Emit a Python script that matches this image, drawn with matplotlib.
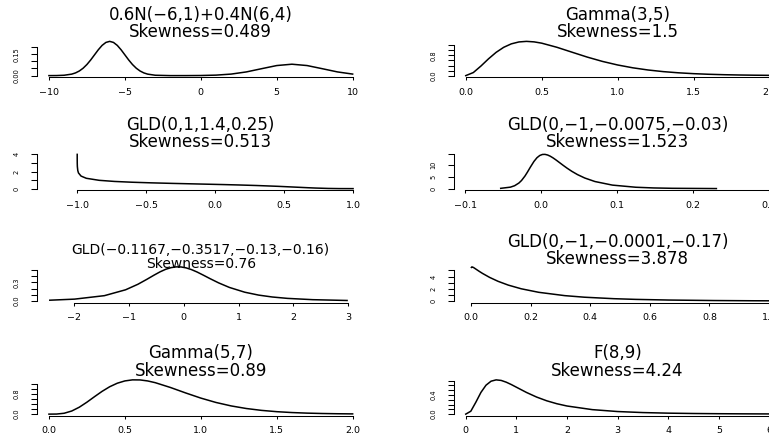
import matplotlib
matplotlib.use("Agg")
import matplotlib.pyplot as plt

# --- data (density curves, 4x2 panels) ---
mix_x = [-10, -9.5, -9, -8.5, -8.25, -8, -7.75, -7.5, -7.25, -7, -6.75, -6.5, -6.25, -6,
         -5.75, -5.5, -5.25, -5, -4.75, -4.5, -4.25, -4, -3.75, -3.5, -3, -2, -1, 0,
         1, 2, 3, 4, 5, 6, 7, 8, 9, 10]
mix_y = [0.0001, 0.0005, 0.0027, 0.0105, 0.0190, 0.0324, 0.0518, 0.0777, 0.1096, 0.1452,
         0.1807, 0.2113, 0.2320, 0.2394, 0.2320, 0.2113, 0.1807, 0.1452, 0.1096, 0.0777,
         0.0518, 0.0324, 0.0190, 0.0105, 0.0027, 0.0001, 0.0002, 0.0009, 0.0035, 0.0108,
         0.0259, 0.0484, 0.0704, 0.0798, 0.0704, 0.0484, 0.0259, 0.0108]

gam35_x = [0, 0.05, 0.1, 0.15, 0.2, 0.25, 0.3, 0.35, 0.4, 0.45, 0.5, 0.6, 0.7, 0.8, 0.9,
           1.0, 1.1, 1.2, 1.3, 1.4, 1.5, 1.6, 1.7, 1.8, 1.9, 2.0]
gam35_y = [0, 0.1217, 0.3791, 0.6643, 0.9197, 1.1191, 1.2551, 1.3305, 1.3534, 1.3336,
           1.2826, 1.1203, 0.9254, 0.7326, 0.5620, 0.4211, 0.3091, 0.2231, 0.1587, 0.1117,
           0.0778, 0.0537, 0.0367, 0.0250, 0.0169, 0.0114]

gld1_x = [-1.0, -0.999997, -0.99998, -0.99969, -0.99896, -0.9959, -0.99078, -0.9722,
          -0.9342, -0.8406, -0.7294, -0.6029, -0.4620, -0.3062, -0.1333, 0.0630, 0.1743,
          0.3006, 0.4578, 0.596, 0.670, 0.727, 0.8208, 0.8999, 1.0]
gld1_y = [4.0, 3.79, 3.507, 2.954, 2.579, 2.111, 1.8295, 1.466, 1.208, 0.970, 0.839, 0.748,
          0.675, 0.610, 0.546, 0.4725, 0.4257, 0.3639, 0.2677, 0.1642, 0.1075, 0.0681,
          0.0219, 0.0040, 0.0]

gld2_x = [-0.0531, -0.04039, -0.03484, -0.02917, -0.02573, -0.02118, -0.01797, -0.01425,
          -0.00944, -0.00543, -0.00178, 0.00169, 0.00510, 0.00855, 0.01209, 0.01580,
          0.01975, 0.02403, 0.02876, 0.03410, 0.04031, 0.04779, 0.05735, 0.07073, 0.09365,
          0.12438, 0.14809, 0.17225, 0.2303]
gld2_y = [0.1261, 0.6286, 1.2397, 2.399, 3.4768, 5.404, 7.0607, 9.112, 11.603, 13.209,
          14.152, 14.589, 14.630, 14.357, 13.831, 13.100, 12.198, 11.156, 9.997, 8.740,
          7.401, 5.995, 4.534, 3.032, 1.5052, 0.5904, 0.2897, 0.1420, 0.0271]

gld3_x = [-2.443, -1.992, -1.447, -1.061, -0.837, -0.675, -0.544, -0.432, -0.330, -0.234,
          -0.142, -0.051, 0.041, 0.137, 0.240, 0.352, 0.481, 0.635, 0.831, 1.111, 1.364,
          1.613, 1.888, 2.350, 2.977]
gld3_y = [0.01477, 0.03205, 0.08775, 0.18181, 0.27007, 0.34872, 0.41569, 0.46971, 0.51011,
          0.53655, 0.54902, 0.54778, 0.53330, 0.50626, 0.46752, 0.41811, 0.35929, 0.29253,
          0.21965, 0.14302, 0.09665, 0.06629, 0.04423, 0.02330, 0.01048]

gld4_x = [0.00125, 0.00305, 0.00846, 0.01784, 0.02782, 0.03850, 0.06239, 0.09063, 0.12499,
          0.16851, 0.22709, 0.31468, 0.38055, 0.47909, 0.55327, 0.66409, 0.8151, 0.94450,
          1.18776]
gld4_y = [5.494, 5.585, 5.479, 5.173, 4.848, 4.521, 3.870, 3.233, 2.613, 2.013, 1.438,
          0.8948, 0.6391, 0.3977, 0.2840, 0.1767, 0.0972, 0.0605, 0.0269]

gam57_x = [0, 0.05, 0.1, 0.15, 0.2, 0.25, 0.3, 0.35, 0.4, 0.45, 0.5, 0.55, 0.6, 0.65, 0.7,
           0.8, 0.9, 1.0, 1.1, 1.2, 1.3, 1.4, 1.5, 1.6, 1.7, 1.8, 1.9, 2.0]
gam57_y = [0, 0.00308, 0.03478, 0.12406, 0.27630, 0.47536, 0.69462, 0.90683, 1.09016,
           1.23054, 1.32168, 1.36363, 1.36097, 1.32094, 1.25204, 1.06068, 0.84370, 0.63858,
           0.46428, 0.32654, 0.22335, 0.14918, 0.09762, 0.06276, 0.03972, 0.02479, 0.01528,
           0.00932]

f89_x = [0, 0.1, 0.2, 0.3, 0.4, 0.5, 0.6, 0.7, 0.8, 0.9, 1.0, 1.2, 1.4, 1.6, 1.8, 2.0,
         2.5, 3.0, 3.5, 4.0, 4.5, 5.0, 5.5, 6.0]
f89_y = [0, 0.06087, 0.24995, 0.45446, 0.60533, 0.68907, 0.71683, 0.70505, 0.66829,
         0.61898, 0.56373, 0.45343, 0.35720, 0.27893, 0.21757, 0.17017, 0.09411, 0.05424,
         0.03257, 0.02031, 0.01311, 0.00872, 0.00595, 0.00416]

titles = ["0.6N(\u22126,1)+0.4N(6,4)", "Gamma(3,5)",
          "GLD(0,1,1.4,0.25)", "GLD(0,\u22121,\u22120.0075,\u22120.03)",
          "GLD(\u22120.1167,\u22120.3517,\u22120.13,\u22120.16)", "GLD(0,\u22121,\u22120.0001,\u22120.17)",
          "Gamma(5,7)", "F(8,9)"]
skewness = ["0.489", "1.5", "0.513", "1.523", "0.76", "3.878", "0.89", "4.24"]

xticks = [[-10, -5, 0, 5, 10], [0, 0.5, 1.0, 1.5, 2.0],
          [-1.0, -0.5, 0.0, 0.5, 1.0], [-0.1, 0.0, 0.1, 0.2, 0.3],
          [-2, -1, 0, 1, 2, 3], [0.0, 0.2, 0.4, 0.6, 0.8, 1.0],
          [0, 0.5, 1.0, 1.5, 2.0], [0, 1, 2, 3, 4, 5, 6]]
xtick_fmt = ["{:.0f}", "{:.1f}", "{:.1f}", "{:.1f}", "{:.0f}", "{:.1f}", "{:.1f}", "{:.0f}"]
yticks = [[0, 0.05, 0.10, 0.15, 0.20], [0, 0.2, 0.4, 0.6, 0.8, 1.0, 1.2],
          [0, 1, 2, 3, 4], [0, 5, 10, 15],
          [0, 0.1, 0.2, 0.3, 0.4, 0.5], [0, 1, 2, 3, 4, 5],
          [0, 0.2, 0.4, 0.6, 0.8, 1.0, 1.2], [0, 0.1, 0.2, 0.3, 0.4, 0.5, 0.6, 0.7]]
ylabels = [["0.00", "", "", "0.15", ""], ["0.0", "", "", "", "0.8", "", ""],
           ["0", "", "2", "", "4"], ["0", "5", "10", ""],
           ["0.0", "", "", "0.3", "", ""], ["0", "", "2", "", "4", ""],
           ["0.0", "", "", "", "0.8", "", ""], ["0.0", "", "", "", "0.4", "", "", ""]]

curves = [(mix_x, mix_y), (gam35_x, gam35_y), (gld1_x, gld1_y), (gld2_x, gld2_y),
          (gld3_x, gld3_y), (gld4_x, gld4_y), (gam57_x, gam57_y), (f89_x, f89_y)]

# --- layout (pixels) ---
W, H = 769, 434
col_left = [36.8, 453.6]
plot_w, plot_h = 328, 37
row_bottom = [77, 190, 302.5, 415.5]
xlims = [(-10.8, 10.8), (-0.08, 2.08), (-1.293, 1.085), (-0.115, 0.316),
         (-2.68, 3.30), (-0.0584, 1.042), (-0.08, 2.08), (-0.24, 6.24)]
title_y = [(14.5, 31.7), (14.5, 31.7), (124.5, 141.7), (124.5, 141.7),
           (249.5, 264), (242, 258.5), (353, 370.5), (353, 370.5)]
title_size = [12, 12, 12, 12, 10, 12, 12, 12]

fig = plt.figure(figsize=(W / 100, H / 100), dpi=100)

for i, (xs, ys) in enumerate(curves):
    r, c = divmod(i, 2)
    left = col_left[c]
    bottom = row_bottom[r]
    ax = fig.add_axes([left / W, 1 - bottom / H, plot_w / W, plot_h / H])
    ax.plot(xs, ys, color="black", lw=1.1, solid_joinstyle="round")
    ymax = max(ys)
    ax.set_ylim(-0.04 * ymax, 1.04 * ymax)
    ax.set_xlim(*xlims[i])

    ax.set_xticks(xticks[i])
    ax.set_xticklabels([xtick_fmt[i].format(v).replace("-", "\u2212") for v in xticks[i]],
                       fontsize=6.8)
    ax.set_yticks(yticks[i])
    ax.set_yticklabels(ylabels[i], rotation=90, va="center", fontsize=4.8)
    ax.tick_params(axis="x", length=2.5, width=0.75, pad=5.2, direction="out")
    ax.tick_params(axis="y", length=4, width=0.75, pad=8.5, direction="out")

    for s in ["top", "right"]:
        ax.spines[s].set_visible(False)
    ax.spines["bottom"].set_bounds(xticks[i][0], xticks[i][-1])
    ax.spines["left"].set_bounds(yticks[i][0], yticks[i][-1])
    ax.spines["bottom"].set_linewidth(0.75)
    ax.spines["left"].set_linewidth(0.75)
    ax.patch.set_alpha(0)

    cx = (left + plot_w / 2) / W
    fig.text(cx, 1 - title_y[i][0] / H, titles[i], ha="center", va="center",
             fontsize=title_size[i])
    fig.text(cx, 1 - title_y[i][1] / H, "Skewness=" + skewness[i], ha="center",
             va="center", fontsize=title_size[i])

fig.savefig("out.png", dpi=100)
